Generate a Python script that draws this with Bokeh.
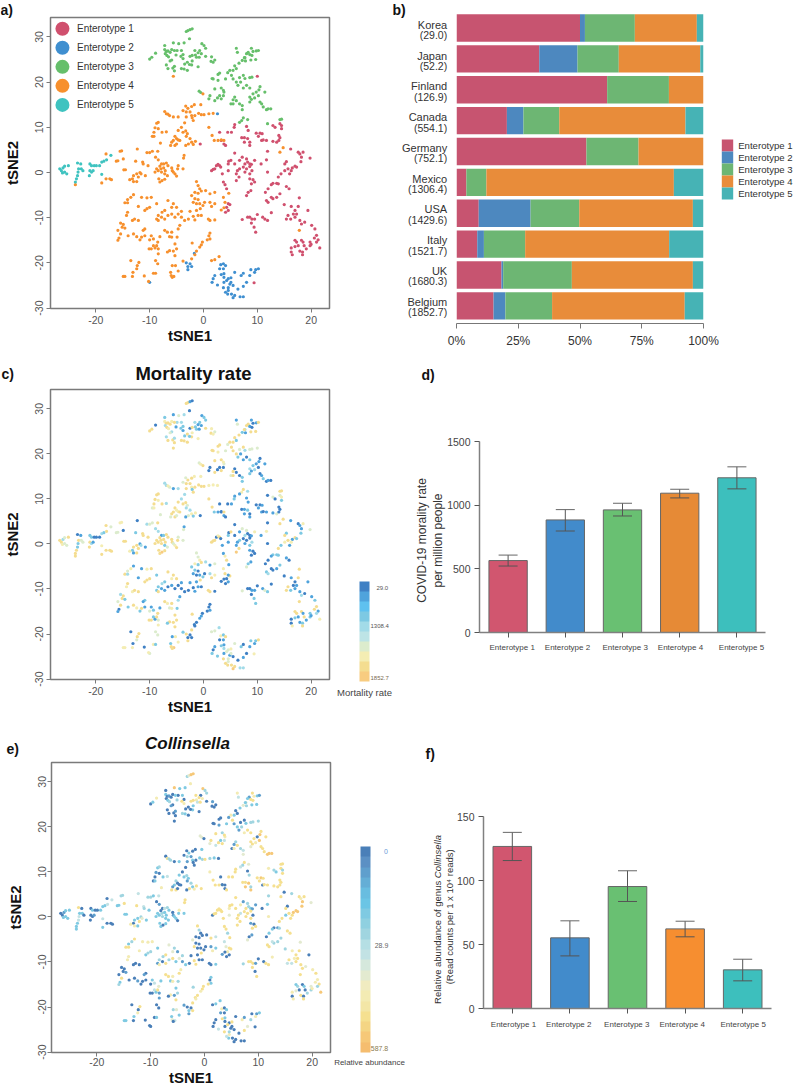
from math import pi
from bokeh.embed import file_html
from bokeh.resources import INLINE
from bokeh.plotting import figure
from bokeh.layouts import column, row
from bokeh.models import (FixedTicker, Range1d, ColumnDataSource, Whisker, TeeHead, ColorBar, LinearColorMapper)
from bokeh.core.properties import value

# (tSNE1, tSNE2, mortality class 0 = lowest .. 9 = highest, Collinsella class 0 = lowest .. 9 = highest)
E3_pts = [(-3.2,31.2,8,4),(-2.9,31.4,8,6),(-2.5,31.6,1,9),(-2.1,31.8,0,9),(-2.6,29.6,0,7),(-10,25.1,8,0),(-9.6,25.5,8,3),
(-8.9,26.4,0,7),(-7.2,28.1,3,0),(-7.2,27.2,7,3),(-6.9,26.8,8,0),(-6.6,26.9,8,1),(-7.1,26.3,4,0),(-6.8,25.9,8,3),(-6.2,26.6,8,0),
(-6.5,25.6,7,4),(-5.9,27.2,7,0),(-5.6,28.7,1,9),(-4.6,28.5,6,3),(-3.6,28.7,4,3),(-0.3,28.5,1,9),(0.1,28.1,3,4),(0.4,27.5,3,4),
(-0.7,27,3,0),(-1,26.5,1,8),(-0.4,26.3,1,7),(-1.6,27,4,8),(-2.5,25.7,0,8),(-2.1,25.9,8,8),(-1.5,26,3,7),(-1.3,25.5,3,5),
(-0.8,25.5,1,8),(0.4,25.7,8,0),(1.5,25.6,7,1),(1.4,24.6,8,0),(2.1,24.9,6,0),(1.8,24.4,7,0),(-4.1,27,4,3),(-3.8,26.1,3,0),
(-4.9,27,4,0),(-5.4,27,8,3),(-5.9,24.9,4,0),(-6.2,24.7,6,1),(-6.9,23.8,4,0),(-6.6,23,8,0),(-5.7,23.1,8,0),(-5.4,22.5,8,0),
(-5.4,23.5,4,1),(-4.1,23,8,4),(-3.6,22.9,8,3),(-3,22.6,8,0),(-2.2,23.8,8,3),(-1,23.4,7,0),(-2.1,24.7,7,3),(-3.8,25.2,1,7),
(-4.2,25.7,3,8),(-5.1,26,1,4),(-3,24.4,8,0),(-3.5,24,3,0),(-2.6,23.9,3,0),
(6.1,27.5,1,7),(6.3,26.6,6,5),(7.7,25.4,4,6),(8.3,26.6,8,1),(8.9,27.5,1,8),(9.2,26.8,0,7),(9.8,26.9,1,3),(10.2,27,8,1),
(8.6,26.1,1,8),(9,25.9,0,8),(8,26.3,8,3),(7.2,24.8,3,6),(7.6,25.4,8,3),(8.8,24.9,8,3),(9.7,25,8,3),(7.8,24.7,1,4),(6.6,24.2,8,3),
(5.8,23.6,8,0),(6.1,23,3,0),(5.5,22.6,8,3),(4.9,22.6,8,7),(4.5,22.1,6,1),(5.2,21.5,8,8),(3,22,8,0),(2.7,21.7,8,0),(1.6,20.8,8,0),
(1.8,20.7,8,0),(2.7,20.4,7,1),(4.1,20.7,6,3),(5.5,20.7,8,1),(6.7,21,6,0),(7.4,21.5,8,0),(7.7,20.8,4,3),(8.6,21,6,4),(9,21.1,6,4),
(6.9,20,1,4),(6.1,20,8,3),(6.4,19.3,3,1),(7.4,18.7,1,7),(8,19.3,0,8),(8.6,18.7,3,8),(10.5,19,0,8),(10.3,18.3,1,9),(11.4,17.8,1,8),
(9.8,17.8,1,0),(9.2,17.4,3,8),(8.6,16.7,4,8),(8.9,16.2,1,8),(9.5,16.5,4,7),(10.2,17,0,9),(8.6,15.6,3,6),(10.5,15.6,0,8),
(10.8,15.2,1,8),(11.1,14.5,3,8),(11.7,13.9,0,9),(12,14.1,1,9),(12.5,14.1,0,9),(5.8,16.7,0,4),(6.1,15.9,0,8),(5.5,16.1,8,1),
(5.1,15.2,6,0),(5.5,15.2,8,7),(6.7,15.2,0,4),(7.2,14.8,3,5),(7.2,13.9,3,6),(1.2,17,0,8),(1,16.3,0,6),(2.1,15.9,8,5),(2.6,16.5,0,8),
(3,17,0,3),(3.3,16.3,8,8),(3.7,17,0,5),(3.8,17.8,6,7),(3.7,18.2,7,8),(2.1,18.5,8,8),(3.3,18.7,8,4),(-0.8,18,6,6),(-0.5,17.7,7,6),
(7.4,12.1,8,8),(8.2,11.7,4,6),(7.1,11.5,7,4),(6.7,11.1,1,5),(14.2,11.7,8,8),(14.5,11.8,8,8),(11.9,10.8,0,7)]
E3_x = [t[0] for t in E3_pts]; E3_y = [t[1] for t in E3_pts]

E4_pts = [(-5.6,21.3,8,0),(-0.1,17.4,8,0),
(-7.2,13.5,4,0),(-6.9,13,4,8),(-6.3,12.6,6,4),(-5.6,12.3,1,0),(-6.6,12.9,7,4),(-4.7,12.3,4,3),(-3.8,13.7,6,0),(-3.3,14.7,6,0),
(-2.9,14.2,8,3),(-2.2,14.6,8,0),(-1.7,15,7,0),(-0.5,15,7,3),(-3.2,13.4,8,4),(-2.5,13.4,8,1),(-2.2,12.6,7,3),(-2.1,12.1,3,0),
(-1.6,12.6,8,0),(-3.2,12.3,8,1),(-1.9,11.5,8,0),(-3.5,11,4,0),(-0.9,13.1,8,3),(-0.4,12.8,8,4),(0.1,12.8,8,8),(1,13,7,4),(1.8,13.1,7,3),
(-8.7,10.9,8,3),(-8.4,11.1,8,4),(-9,9.9,8,1),(-8.4,9.7,7,0),(-9.2,8.9,8,0),(-9.5,8,6,0),(-9.2,8,7,3),(-7.7,8.9,8,3),(-6.9,9,4,5),
(-5.3,8,8,4),(-5,7.5,7,0),(-5.6,7.1,8,3),(-5.9,6.7,8,1),(-6.1,6,6,8),(-5.3,6,8,8),(-4.7,7.2,7,0),(-4.4,7.1,8,0),(-5,6.3,6,0),
(-3.8,8.9,8,3),(-3.3,9.2,8,4),(-3,8.6,6,3),(-3.2,8,4,1),(-2.5,7.5,4,4),(-2.2,6.7,7,3),(-1.9,6.2,3,7),(-1.5,6.9,7,8),(-2.8,6.3,6,8),
(-3.3,6,1,0),(-4.7,9.3,8,3),(-4.1,10,4,0),(-8,6.5,6,7),(1.6,8.2,8,8),(2,7.1,3,8),(2.7,7.1,1,8),(3.3,7.2,0,0),(3.8,7.1,8,0),(1,10,8,7),
(-15.5,4.7,7,4),(-15.2,4.8,7,4),(-12.3,5.2,0,5),(-16.2,2.5,6,3),(-15.9,2.6,6,3),(-14.9,3,0,8),(-14.8,0.6,8,3),(-14.5,0.6,8,3),
(-12.6,2.5,3,8),(-11.3,2.3,8,5),(-11.2,1.9,8,4),(-10.5,4.4,4,4),(-10,4.4,6,4),(-9.5,4.7,6,3),(-8.5,4.7,8,5),(-8.9,3.4,4,0),
(-8.4,2.8,4,1),(-10.3,1.5,8,3),(-11.8,0,1,4),(-12.4,-0.3,8,3),(-13,-0.7,8,3),(-13.2,-1.4,3,0),(-13,-2,1,7),(-12.4,-2,8,3),(-12.1,-1,8,8),
(-11.6,-0.3,4,6),(-10.8,-0.7,1,3),(-13.7,-1.6,7,7),
(-7.8,1.9,1,0),(-7.4,1.9,3,5),(-6.9,2.1,8,4),(-6.6,1.5,8,3),(-8.1,1.4,8,0),(-8.7,0.8,8,3),(-9,0.1,8,3),(-8.4,0.4,8,3),(-7.9,0.8,8,4),
(-7.4,1,8,3),(-7.1,0.4,8,3),(-7.8,0.1,8,4),(-7.2,-0.3,3,3),(-6.7,-0.7,6,3),(-5.9,1,8,0),(-5.8,0.4,8,1),(-5.3,-0.3,7,3),(-5,-0.8,8,0),
(-5.6,0.1,6,3),(-4.8,0.8,8,3),(-3.8,0.8,6,3),(-4.7,1.5,6,7),(-8.1,-2.1,8,3),(-7.7,-1.8,9,0),(-7.2,-1.5,8,3),(-8.3,-1.4,8,3),(-3.6,3.8,1,8),(-3.7,3.2,6,8),
(-13,-4.9,1,8),(-13.5,-5.5,7,4),(-14.1,-6,6,3),(-14.6,-6.7,8,8),(-14.1,-6.7,4,8),(-11.5,-5.5,1,7),(-10.5,-5.6,7,7),(-9.7,-5.5,8,7),
(-12.1,-7.5,1,7),(-14.1,-8.8,8,7),(-14.3,-9.5,7,7),(-10.9,-8.4,8,3),(-10.5,-8,8,4),(-10,-7.7,8,4),(-8.7,-6.9,3,3),(-6.6,-6.2,8,6),
(-5.6,-6.9,8,4),(-5,-7.7,8,1),(-5.9,-7.7,7,6),(-7.2,-8.4,3,8),(-7.7,-8.8,4,4),(-8.4,-9.5,3,4),(-8.7,-10.3,3,1),(-8.4,-10.6,8,7),
(-7.8,-9.9,1,0),(-7.2,-10.3,1,8),(-6.6,-9.5,0,4),(-5.9,-9.2,1,8),(-5.3,-9.9,0,3),(-4.7,-9.2,0,6),(-4.1,-8.6,1,4),(-4.1,-9.9,0,1),
(-3.5,-10.6,0,3),(-2.8,-10.3,0,0),(-2.5,-8.6,1,0),(-1.9,-9.7,0,8),(-1.6,-10.5,1,8),(-1,-9.5,1,0),(-0.4,-9.5,0,0),(-1.3,-8.4,1,0),
(-0.6,-8,8,8),(-0.1,-7.3,3,0),(-0.7,-6.9,1,0),(-1.3,-6.9,0,0),(-1.9,-6.6,1,8),(-1.6,-5.8,3,0),(-1,-6,0,0),(0.2,-6.6,0,0),(1.2,-6.6,4,1),
(-1.3,-2,6,8),(-1,-2.9,6,4),(-0.7,-3.6,7,0),(-0.4,-4.1,8,0),(0.4,-4,4,0),(1.2,-4.7,1,8),(2.1,-4.4,6,5),(-2.2,-5.1,3,6),(-1.6,-4.4,7,0),
(-1,-4.6,3,0),(2.1,-6.9,7,3),(1.5,-7.5,8,7),(4.7,-4.6,1,8),(3.7,-5.5,7,5),(4,-6.6,8,6),(3.3,-8.3,0,1),(3.8,-7.8,0,0),(0.9,-10.3,8,0),
(1.2,-10.6,8,0),(2.1,-10.5,0,3),
(-14.9,-11.5,8,0),(-15.4,-11.2,4,0),(-15.1,-12.1,8,0),(-14.6,-12.3,3,1),(-15.9,-12.8,6,0),(-15.4,-13.6,8,8),(-15.7,-14.5,0,3),(-15.9,-15,1,4),
(-14,-14,3,0),(-13,-13.6,8,0),(-12.4,-14.2,7,1),(-13.2,-10.6,7,0),(-12.8,-10.3,8,0),(-12.1,-10.6,8,0),(-10.9,-12.5,3,0),(-11.2,-12.8,1,1),
(-10.9,-14,1,0),(-11.5,-14.3,8,0),(-11.8,-14.9,3,0),(-10,-14.9,6,0),(-9.7,-14,1,3),(-9.3,-14.7,3,5),(-10.1,-16.9,8,0),(-9.7,-16.9,8,0),
(-9.3,-16.2,3,5),(-9,-16.7,1,3),(-8.7,-16.2,8,8),(-8.5,-15.4,8,6),(-8.1,-14.2,1,3),(-7.2,-12.8,8,8),(-6.7,-13.2,7,8),(-6.3,-14.2,6,3),
(-5.9,-14.3,7,7),(-4.9,-14.3,3,4),(-4.7,-12.5,4,8),(-4.4,-11.7,1,7),(-5.9,-13.2,8,7),(-5.3,-15.8,8,3),(-5,-16.9,8,4),(-5.6,-17.4,8,1),
(-6.3,-17.3,8,7),(-6.7,-17.6,3,0),(-5.3,-18.4,8,8),(-8.4,-16.9,6,1),(-8.4,-18,7,1),(-8.9,-19.5,6,0),(-8.5,-20.2,6,0),(-3.8,-19.6,3,1),
(1.2,-13.4,0,3),(1,-14,0,0),(1.2,-14.7,1,3),(0.7,-14.9,0,8),(-0.4,-16,1,8),(-0.2,-15.4,0,8),(-0.7,-16.5,1,7),(-1.3,-17.4,0,8),(-1.6,-18.2,0,7),
(-2.1,-15.6,8,4),(-2.2,-19.1,8,8),
(-13.5,-19.5,0,0),(-12,-19.9,8,8),(-12.3,-20.6,8,0),(-12.4,-21.3,6,7),(-13.1,-22.1,0,3),(-13.2,-23,7,0),(-14.6,-23,7,3),(-14.9,-23,7,3),
(-11,-22.9,0,0),(-9.3,-22.3,7,0),(-8.9,-22.3,3,3),(-10.2,-24.1,7,0),(-5.8,-20.6,1,4),(-6.1,-22.1,3,3),(-4.7,-21.8,7,3),(-5.2,-20.6,7,6),
(-6,-22.8,8,6),(-5.5,-23,9,5),(-5.8,-23.2,8,0),(1.5,-19.5,6,0),(2.1,-19.3,6,3),(2.9,-18.6,4,3),(14.8,5.5,8,0),(14.2,4.5,8,8),(17.8,-12.8,8,8),
(-18.1,4.1,8,0),(-17.4,-1.4,8,0),(-17.1,-1.6,8,0),(-18.9,-2.3,8,3),(-18.1,-1.4,8,0),(-23.8,-2.7,8,3)]
E4_x = [t[0] for t in E4_pts]; E4_y = [t[1] for t in E4_pts]

E1_pts = [(10,21.3,6,4),(-0.6,6.3,0,8),(5.8,10.6,1,8),(5.7,10,3,8),(8,10.2,1,0),(8.3,9.3,1,4),(9.8,8.7,0,8),(10.5,8.7,0,9),(10.9,8.6,1,8),(10.2,8,1,8),
(7.1,7.7,0,8),(7.6,7.7,1,8),(8.2,7.5,3,9),(7.6,6.7,1,9),(8.6,6,1,9),(8.6,6.7,0,4),(5.2,8.9,1,8),(4.5,8.9,0,8),(3,8.9,0,0),(3.3,7.1,0,4),
(3.8,6.3,1,0),(4.1,6,0,8),(10.8,7.1,1,0),(11.7,7.1,1,8),(11.1,7.2,0,8),(12.9,10.4,6,4),(13.3,10,0,3),(14.2,10.8,6,8),(14.5,10.4,7,4),(14.5,9.7,3,8),
(14,8.2,0,8),(14.2,7.7,0,8),(12.9,6.9,1,8),(13.6,6.7,6,8),(14,7.1,0,8),(11.9,4.7,0,4),(16.2,5.2,1,4),(17.6,4.5,0,8),(17.9,4.1,1,7),(18.5,4.5,7,8),
(18.2,3.4,1,9),(19.8,3.2,6,6),(18.1,2.4,3,9),(15.4,2.4,3,0),(15.1,1.9,8,8),(17,1.4,8,9),(17.3,1.2,3,9),(16.5,1,1,9),(16.3,0.4,7,8),(16,-0.3,1,8),
(15.7,0.8,8,8),(15.1,0.4,7,3),(14.4,-0.3,3,8),(13.9,-1,8,8),(13.6,-2.4,3,1),(12.9,-2.4,3,0),(12.6,-2.7,1,3),(12,-3.6,0,3),(11.5,-4.4,0,0),(13.9,-2.5,3,4),
(15.4,-3.1,1,8),(15.9,-3.6,0,8),(14.2,-4.7,3,4),(13.6,-5.5,1,4),(12.9,-5.8,0,4),(12.6,-5.5,0,5),(11.7,-6.2,3,8),(12,-6.6,4,8),(15,-7.1,0,4),(16.3,-7.5,1,7),
(17.8,-5.6,8,6),(17.6,-7.5,8,8),(17,-8.4,0,8),(16.7,-9.2,0,7),(15.7,-9.5,8,8),(15.4,-10.3,8,5),(16.2,-10.3,3,5),(17,-9.9,1,8),(17.3,-9.2,1,8),(19.4,-8.4,1,0),
(17.9,-10.6,1,8),(18.2,-11.4,4,8),(18.8,-11,0,6),(20.1,-11.7,1,7),(20.7,-12.5,3,8),(21,-13.9,8,7),(20.6,-14.5,8,7),(21.3,-14.9,1,8),(21,-15.4,4,4),
(19.8,-15.4,3,6),(19.8,-16.2,3,4),(20,-15.9,1,7),(21.6,-16.7,7,9),(18.2,-15,8,0),(18.5,-15.4,1,3),(17.3,-15.4,8,4),(17,-15,8,3),(17.6,-16.2,1,0),
(17,-16.4,3,6),(16.3,-16.7,0,7),(16.3,-17.6,0,0),(16.5,-18.2,7,7),(17.9,-17.4,1,8),(18.4,-17.6,3,0),(18.4,-18.2,8,8),(19.1,-16.9,1,4),(18.7,-16.2,8,0),(5.8,4.3,0,8),
(1.5,0.4,8,0),(1.8,0.7,8,8),(2.1,0.8,8,8),(2.4,1.5,0,8),(2.7,1.8,7,8),(3,1.5,8,8),(3.2,1.2,0,8),(4.7,2.5,0,8),(5.1,2.7,8,8),(4.6,1.9,3,7),
(5.8,1.9,0,8),(6.7,2.7,1,7),(7.2,3.4,6,1),(8,3,6,4),(7.7,1.9,4,8),(8.6,1.9,0,3),(8.2,2.3,0,4),(8.9,1.8,1,1),(8.6,1.3,0,8),(8,0.8,0,8),
(7.4,1.2,0,8),(6.7,0.8,3,5),(6.3,0.4,1,8),(6.1,-0.3,1,8),(6.6,-1,8,8),(6.1,-1.8,9,8),(7.7,0.1,1,8),(8.6,-0.3,3,8),(9,0.4,4,0),(8.6,-1.4,1,1),
(9.2,-1.6,0,0),(9.5,-2.1,0,8),(8.9,-2.5,0,8),(8.8,-4,1,1),(8.3,-4.4,3,0),(8,-5.1,6,6),(4.6,0.4,1,6),(3.5,-0.3,1,8),(3.7,-2.1,1,8),(4,-2.7,7,8),
(4.3,-3.6,8,4),(9.5,2.7,7,1),(10.7,1.9,1,0),(11.7,2.8,7,3),(11.9,0.1,0,7),(4.6,-8.4,1,0),(4.3,-7.7,0,7),(4.9,-7.1,8,8),(4.6,-6.9,1,8),(4.1,-8.8,0,0),
(7.2,-10.4,6,4),(8.2,-9.9,0,8),(8.6,-9.9,0,8),(9,-10.3,1,8),(9.5,-10.3,1,1),(10,-9.3,0,0),(8.9,-11.2,0,8),(9.4,-12.1,3,0),(9.7,-13.2,3,8),(11,-9.9,1,0),
(11.4,-10.3,6,8),(11.9,-10.6,3,8),(12.6,-8.9,0,7),(9.4,-24.4,7,0)]
E1_x = [t[0] for t in E1_pts]; E1_y = [t[1] for t in E1_pts]

E2_pts = [(2.6,13,7,0),(-1.7,-17.9,0,8),(-2.5,-20.2,0,0),(-3.2,-20,8,0),(-2.9,-20.8,0,3),(-2.2,-20.8,0,8),(-2.9,-21.5,8,1),(-10,-24.3,6,0),
(3.2,-20.4,7,7),(3.7,-20.2,3,0),(4.1,-20.6,8,3),(3,-21.3,0,1),(3.7,-21.3,1,0),(3.3,-22.6,3,8),(3.8,-22.4,1,3),(2.1,-22.8,1,0),(1.6,-24.3,3,0),
(1.8,-23.5,0,0),(2.6,-24.9,3,5),(3.8,-24.3,1,0),(4.6,-23.5,6,0),(5.1,-23.3,7,8),(5.8,-22.1,6,0),(7,-22.8,3,7),(7.4,-22.3,0,1),(8.6,-22.8,1,4),
(8.8,-21.5,3,0),(9.5,-22.1,1,7),(9.7,-21.5,3,1),(10.2,-21.3,8,3),(3.7,-25.5,8,8),(4.6,-26.1,6,7),(5.2,-26.9,8,0),(5.8,-27.2,8,0),(5.5,-27.7,9,0),
(4.9,-24.7,1,0),(5.5,-25,0,0),(4.6,-25.5,6,4),(5.1,-24.3,6,0),(6.8,-27.5,4,0),(7.4,-27.5,4,0),(6.4,-25.8,0,0),(8,-24.3,0,6),(7.4,-25.2,1,8),
(4.5,-26.9,8,3),(4.1,-26.5,8,5),(3.8,-23.2,4,0),(4.3,-23.9,6,8)]
E2_x = [t[0] for t in E2_pts]; E2_y = [t[1] for t in E2_pts]

E5_pts = [(-26.7,0.8,8,0),(-26.4,0.4,8,0),(-26.1,1,4,1),(-25.8,1.4,6,3),(-25.1,1.5,8,3),(-26.2,-0.1,7,3),(-25.4,-0.3,6,3),(-25.8,0.1,6,3),(-23.4,2.1,0,8),
(-22.8,1.9,1,0),(-23.2,0.8,8,3),(-22.7,0.8,6,3),(-22.4,0.4,6,0),(-23.3,0.1,3,5),(-23.4,-0.7,3,5),(-23.6,-1.4,8,3),(-23.8,-2.1,8,3),(-21.1,1.9,3,0),
(-20.8,1.5,3,3),(-20.3,1.5,0,0),(-19.9,1.5,0,0),(-19.3,1.5,0,3),(-21.1,0.4,8,0),(-20.8,0.1,4,0),(-20.5,0.4,1,1),(-21.2,-0.7,8,0),(-18.9,2.3,4,3),
(-18.5,2.5,3,3),(-18,2.8,8,5),(-17.2,3.8,6,5),(-18.9,-0.4,7,5)]
E5_x = [t[0] for t in E5_pts]; E5_y = [t[1] for t in E5_pts]

enterotypes = ["Enterotype 1", "Enterotype 2", "Enterotype 3", "Enterotype 4", "Enterotype 5"]
scatter_colors = ["#d0506e", "#3f8fd0", "#66bf6b", "#f7902d", "#3fc3c0"]
stack_colors = ["#c75470", "#4d88bf", "#6db673", "#e88c3a", "#46b3b5"]
bar_colors_d = ["#d1566f", "#428bcb", "#69c072", "#e68a36", "#3dbfbd"]
bar_colors_f = ["#d1566f", "#428bcb", "#69c072", "#f68e30", "#3dbfbd"]

country_names = ["Korea", "Japan", "Finland", "Canada", "Germany", "Mexico", "USA", "Italy", "UK", "Belgium"]
country_rates = ["(29.0)", "(52.2)", "(126.9)", "(554.1)", "(752.1)", "(1306.4)", "(1429.6)", "(1521.7)", "(1680.3)", "(1852.7)"]
share_e1 = [50.0, 33.5, 61.0, 20.4, 52.6, 4.0, 9.0, 8.4, 18.2, 15.0]
share_e2 = [2.0, 15.5, 0.0, 6.7, 0.0, 0.0, 21.0, 2.7, 0.7, 4.8]
share_e3 = [20.2, 16.7, 25.0, 14.5, 21.1, 8.1, 19.7, 16.7, 27.8, 18.9]
share_e4 = [25.1, 33.0, 14.0, 51.1, 26.3, 75.9, 46.0, 58.3, 49.0, 53.7]
share_e5 = [2.7, 1.3, 0.0, 7.3, 0.0, 12.0, 4.3, 13.9, 4.3, 7.6]

mort_mean = [565, 884, 963, 1094, 1215]
mort_hi = [608, 965, 1015, 1125, 1301]
mort_lo = [522, 797, 915, 1057, 1128]
coll_mean = [126.6, 55.2, 95.3, 62.2, 30.2]
coll_hi = [137.6, 68.5, 107.6, 68.2, 38.5]
coll_lo = [115.6, 41.1, 83.6, 56.0, 21.6]

mort_palette = ["#f8cc80", "#f4dd90", "#f4edb3", "#dceccd", "#bde4e6", "#a2dbe8", "#7dc9e3", "#5fc1ef", "#4fa3dc", "#3f80c4"]
abund_palette = ["#f5bd6f", "#f6c878", "#f4d584", "#f5e090", "#f3e6a6", "#f3ebb3", "#f0ebc0", "#e3ead0", "#d5e8dc", "#c2e2e4",
                 "#b5dfe4", "#a0d5e0", "#8fd0e0", "#7fcae2", "#6bc5e5", "#68bde0", "#64aed6", "#5f9fcd", "#5b90c4", "#4a7fb8"]

FONT = "Liberation Sans"
X_RANGE = (-28.42, 23.41)
Y_RANGE = (-30.1, 34.3)
PAGE_W, PAGE_H = 793, 1087

# transparent sheet over the whole page, in page pixels, for the texts and keys that lie outside the plot frames
ov = figure(width=PAGE_W, height=PAGE_H, x_range=Range1d(0, PAGE_W), y_range=Range1d(PAGE_H, 0), x_axis_type=None, y_axis_type=None,
            min_border=0, toolbar_location=None, output_backend="svg", outline_line_color=None,
            background_fill_color=None, border_fill_color=None, margin=(-PAGE_H, 0, 0, 0))
ov.grid.visible = False


def label(s, x, y, size, color="#333333", style="normal", angle=0, align="center", font=FONT):
    ov.text([x], [y], text=[s], text_font=value(font), text_font_size=f"{size}px", text_color=color,
            text_font_style=style, angle=angle, text_align=align, text_baseline="middle")


def tsne_fig(left, top, right, bottom, h=290, tick_gap=3):
    p = figure(width=left + 279 + right, height=top + h + bottom, frame_width=279, frame_height=h,
               x_range=Range1d(*X_RANGE), y_range=Range1d(*Y_RANGE),
               min_border_left=left, min_border_top=top, min_border_right=right, min_border_bottom=bottom,
               toolbar_location=None, output_backend="svg", x_axis_label="tSNE1", y_axis_label="tSNE2",
               background_fill_color="white", border_fill_color="white")
    p.grid.visible = False
    p.outline_line_color = "#7a7a7a"
    p.outline_line_width = 1.5
    xt = [-20, -10, 0, 10, 20]
    yt = [-30, -20, -10, 0, 10, 20, 30]
    p.xaxis.ticker = FixedTicker(ticks=xt)
    p.yaxis.ticker = FixedTicker(ticks=yt)
    p.xaxis.major_label_overrides = {v: str(v) for v in xt}
    p.yaxis.major_label_overrides = {v: str(v) for v in yt}
    p.xaxis.bounds = (-20, 20)
    p.yaxis.bounds = (-30, 30)
    p.yaxis.major_label_orientation = "vertical"
    for ax in (p.xaxis[0], p.yaxis[0]):
        ax.axis_line_color = "#7a7a7a"
        ax.major_tick_line_color = "#7a7a7a"
        ax.major_tick_out = 4
        ax.major_tick_in = 0
        ax.minor_tick_line_color = None
        ax.major_label_text_font = FONT
        ax.major_label_text_font_size = "10.5px"
        ax.major_label_text_color = "#555555"
        ax.major_label_standoff = tick_gap
        ax.axis_label_text_font = FONT
        ax.axis_label_text_font_size = "15px"
        ax.axis_label_text_font_style = "bold"
        ax.axis_label_text_color = "#111111"
    p.xaxis.axis_label_standoff = 0
    p.yaxis.axis_label_standoff = 12
    return p


# ---------- a
pa = tsne_fig(49, 17, 62, 42, h=291)
for xs, ys, col in zip((E1_x, E2_x, E3_x, E4_x, E5_x), (E1_y, E2_y, E3_y, E4_y, E5_y), scatter_colors):
    pa.scatter(xs, ys, size=3.2, fill_color=col, line_color=None)
leg_y = [31.8 - 4.21 * i for i in range(5)]
pa.scatter([-26.2] * 5, leg_y, size=14, fill_color=scatter_colors, line_color=None)
pa.text([-23.5] * 5, leg_y, text=enterotypes, text_font=value(FONT), text_font_size="10px", text_color="#333333", text_baseline="middle")
label("a)", 0, 8, 14, "#111111", "bold", align="left")

# ---------- b
pb = figure(width=403, height=350, frame_width=247, frame_height=311, x_range=Range1d(0, 100), y_range=Range1d(-0.57, 9.5),
            min_border_left=65, min_border_top=12, min_border_right=91, min_border_bottom=27,
            toolbar_location=None, output_backend="svg", y_axis_type=None)
pb.grid.visible = False
pb.outline_line_color = None
ypos = list(range(9, -1, -1))
src_b = ColumnDataSource(dict(y=ypos, e1=share_e1, e2=share_e2, e3=share_e3, e4=share_e4, e5=share_e5))
pb.hbar_stack(["e1", "e2", "e3", "e4", "e5"], y="y", height=0.887, color=stack_colors, line_color=None, source=src_b)
pb.xaxis.ticker = FixedTicker(ticks=[0, 25, 50, 75, 100])
pb.xaxis.major_label_overrides = {0: "0%", 25: "25%", 50: "50%", 75: "75%", 100: "100%"}
pb.xaxis.axis_line_color = "#777777"
pb.xaxis.major_tick_line_color = "#777777"
pb.xaxis.major_tick_out = 5
pb.xaxis.major_tick_in = 0
pb.xaxis.minor_tick_line_color = None
pb.xaxis.major_label_text_font = FONT
pb.xaxis.major_label_text_font_size = "12px"
pb.xaxis.major_label_text_color = "#333333"
pb.xaxis.major_label_standoff = 5
label("b)", 392, 8, 14, "#111111", "bold", align="left")
for i, (n, r) in enumerate(zip(country_names, country_rates)):
    label(n, 446.7, 23.3 + 30.78 * i, 11, "#333333", align="right")
    label(r, 446.7, 33.7 + 30.78 * i, 10.5, "#333333", align="right")
for i, (name, col) in enumerate(zip(enterotypes, stack_colors)):
    ov.quad(left=[721.3], right=[732.7], top=[138 + 12 * i], bottom=[150 + 12 * i], fill_color=col, line_color=None)
    label(name, 737.7, 144 + 12 * i, 9.6, "#333333", align="left")

# ---------- c
pts = E1_pts + E2_pts + E3_pts + E4_pts + E5_pts
pc = tsne_fig(50, 39, 71, 38)
mm = LinearColorMapper(palette=mort_palette, low=-0.5, high=9.5)
pc.scatter("x", "y", size=3.2, fill_color={"field": "v", "transform": mm}, line_color=None,
           source=ColumnDataSource(dict(x=[t[0] for t in pts], y=[t[1] for t in pts], v=[9 - t[2] for t in pts])))
cb = ColorBar(color_mapper=mm, location=(309, -2), width=10, height=100, ticker=FixedTicker(ticks=[]), padding=0,
              bar_line_color=None, border_line_color=None, background_fill_color=None, major_tick_line_color=None)
pc.add_layout(cb, "center")
label("Mortality rate", 193, 372, 18.5, "#111111", "bold")
label("c)", 1, 372, 14, "#111111", "bold", align="left")
label("29.0", 376, 586, 6, "#555555", align="left")
label("1308.4", 370, 624, 6, "#555555", align="left")
label("1852.7", 370, 676, 6, "#7a6a50", align="left")
label("Mortality rate", 364, 691, 9.5, "#444444")


# ---------- d
def bar_fig(left, top, w, h, right, bottom, ymax, ticks):
    p = figure(width=left + w + right, height=top + h + bottom, frame_width=w, frame_height=h,
               x_range=Range1d(-0.5, 4.5), y_range=Range1d(0, ymax),
               min_border_left=left, min_border_top=top, min_border_right=right, min_border_bottom=bottom,
               toolbar_location=None, output_backend="svg")
    p.grid.visible = False
    p.outline_line_color = None
    p.xaxis.ticker = FixedTicker(ticks=[0, 1, 2, 3, 4])
    p.xaxis.major_label_overrides = {i: "" for i in range(5)}
    p.yaxis.ticker = FixedTicker(ticks=ticks)
    for ax in (p.xaxis[0], p.yaxis[0]):
        ax.axis_line_color = "#808080"
        ax.axis_line_width = 1.5
        ax.major_tick_line_color = "#555555"
        ax.major_tick_out = 5
        ax.major_tick_in = 0
        ax.minor_tick_line_color = None
        ax.major_label_text_font = FONT
        ax.major_label_text_font_size = "10.5px"
        ax.major_label_text_color = "#444444"
        ax.major_label_standoff = 4
    return p


def bars(p, means, lo, hi, colors):
    src = ColumnDataSource(dict(x=list(range(5)), top=means, lo=lo, hi=hi, c=colors))
    p.vbar(x="x", top="top", bottom=0, width=0.67, fill_color="c", line_color="#666666", line_width=1, source=src)
    p.add_layout(Whisker(source=src, base="x", upper="hi", lower="lo", line_color="#555555", line_width=1, level="annotation",
                         upper_head=TeeHead(size=19, line_color="#666666", line_width=1),
                         lower_head=TeeHead(size=19, line_color="#555555", line_width=1)))


pd_ = bar_fig(79, 91, 286, 191, 28, 85, 1500, [0, 500, 1000, 1500])
bars(pd_, mort_mean, mort_lo, mort_hi, bar_colors_d)
for name, cx in zip(enterotypes, [511.7, 567, 624.7, 680, 741]):
    label(name, cx, 646, 8, "#444444")
label("COVID-19 morality rate", 421.7, 539, 12, "#333333", angle=pi / 2)
label("per million people", 437.7, 539, 12, "#333333", angle=pi / 2)
label("d)", 421, 373, 14, "#111111", "bold", align="left")

# ---------- e
pe = tsne_fig(51, 45, 80, 35, tick_gap=1)
me = LinearColorMapper(palette=abund_palette, low=-0.5, high=19.5)
pe.scatter("x", "y", size=3.2, fill_color={"field": "v", "transform": me}, line_color=None,
           source=ColumnDataSource(dict(x=[t[0] for t in pts], y=[t[1] for t in pts], v=[19 - 2 * t[3] for t in pts])))
cb2 = ColorBar(color_mapper=me, location=(309, 0), width=10, height=206, ticker=FixedTicker(ticks=[]), padding=0,
               bar_line_color=None, border_line_color=None, background_fill_color=None, major_tick_line_color=None)
pe.add_layout(cb2, "center")
label("Collinsella", 187, 742, 17, "#111111", "bold italic")
label("e)", 6, 747, 14, "#111111", "bold", align="left")
label("0", 385.5, 850, 7, "#6a9ad8")
label("28.9", 381, 944, 7, "#666666")
label("587.8", 379, 1047, 7, "#8a7a50")
label("Relative abundance", 369, 1061, 8, "#444444")

# ---------- f
pf = bar_fig(73, 99, 288, 192, 22, 79, 150, [0, 50, 100, 150])
bars(pf, coll_mean, coll_lo, coll_hi, bar_colors_f)
for name, cx in zip(enterotypes, [513, 568.3, 626.3, 681.7, 742.7]):
    label(name, cx, 1022.7, 8, "#444444")
label("Relative abundance of genus ", 436.7, 876.7, 9.5, "#333333", angle=pi / 2, align="right")
label("Collinsella", 436.7, 876.7, 9.5, "#333333", "italic", angle=pi / 2, align="left")
label("(Read counts per 1 x 10\u2074 reads)", 449.3, 915.3, 9.5, "#333333", angle=pi / 2)
label("f)", 425, 752, 14, "#111111", "bold", align="left")


def solo(p):
    return column(p, spacing=0, margin=0)


root = column(row(solo(pa), solo(pb), spacing=0, margin=0), row(solo(pc), solo(pd_), spacing=0, margin=0),
              row(solo(pe), solo(pf), spacing=0, margin=0), ov, spacing=0, margin=0)
open("out.html", "w").write(file_html(root, INLINE))
